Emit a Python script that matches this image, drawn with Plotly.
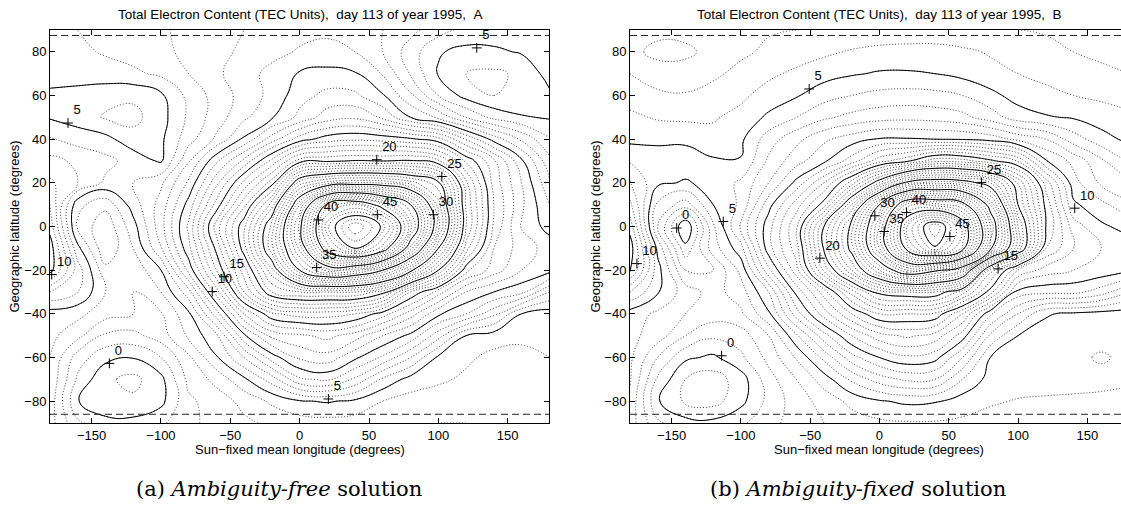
import plotly.graph_objects as go

W, H = 1121, 508

# ---------------- data ----------------
lon = list(range(-180, 181, 20))          # sun-fixed mean longitude (deg)
lat = list(range(90, -91, -10))           # geographic latitude (deg), top row first

# TEC (TEC units), panel A (ambiguity-free); one row per latitude in `lat`
tec_a = [
    [5.8, 6.0, 6.3, 6.6, 6.9, 7.2, 7.6, 8.0, 8.4, 8.7, 8.8, 8.6, 8.0, 7.3, 6.4, 5.7, 5.6, 5.7, 5.8],
    [5.6, 5.8, 6.1, 6.4, 6.8, 7.2, 7.7, 8.2, 8.7, 9.1, 9.3, 9.0, 8.0, 6.5, 5.1, 4.7, 4.8, 5.1, 5.6],
    [5.4, 5.5, 5.6, 5.8, 6.2, 7.0, 7.8, 8.6, 9.3, 10.1, 10.3, 10.1, 8.9, 6.9, 4.9, 4.0, 3.8, 4.2, 5.4],
    [4.8, 4.6, 4.3, 4.2, 4.8, 6.3, 7.4, 8.4, 9.3, 10.6, 11.3, 11.2, 10.1, 8.2, 6.0, 4.6, 4.0, 4.2, 4.8],
    [4.9, 4.5, 3.9, 3.7, 4.6, 6.2, 7.5, 8.8, 9.9, 11.3, 12.5, 12.8, 11.8, 10.0, 8.8, 7.0, 5.7, 5.1, 4.9],
    [6.1, 5.6, 5.3, 4.4, 4.8, 6.6, 8.2, 10.2, 12.5, 14.5, 15.5, 15.8, 15.6, 15.2, 14.4, 11.9, 9.6, 7.8, 6.1],
    [7.3, 6.8, 6.3, 5.6, 4.85, 7.9, 10.8, 13.3, 16.3, 19.5, 19.8, 20.1, 20.0, 20.2, 19.2, 15.8, 13.2, 10.2, 7.3],
    [8.2, 7.0, 5.8, 6.0, 6.8, 9.2, 12.7, 16.3, 19.5, 26.5, 28.5, 29.0, 28.8, 27.5, 25.3, 18.2, 13.6, 11.0, 8.2],
    [9.0, 4.3, 3.3, 5.5, 7.4, 10.4, 14.4, 18.7, 23.5, 31.9, 40.5, 42.0, 39.0, 35.0, 27.5, 18.8, 14.0, 11.2, 9.0],
    [9.6, 3.8, 2.3, 4.6, 7.6, 11.2, 16.5, 20.8, 26.4, 34.5, 43.8, 48.0, 44.7, 37.5, 28.5, 19.0, 13.8, 10.9, 9.6],
    [10.6, 5.3, 2.2, 4.0, 6.9, 10.7, 15.3, 20.6, 26.7, 33.3, 41.5, 45.0, 41.5, 33.5, 25.0, 17.5, 13.0, 11.5, 10.6],
    [10.4, 6.5, 3.3, 3.2, 5.0, 9.3, 14.0, 18.6, 23.7, 30.0, 33.5, 32.5, 30.0, 25.5, 20.0, 14.3, 12.5, 11.0, 10.4],
    [7.0, 6.0, 4.0, 3.0, 4.0, 6.6, 11.5, 17.0, 21.0, 22.0, 22.0, 22.0, 20.5, 16.0, 13.5, 11.0, 10.0, 9.3, 7.0],
    [4.5, 4.3, 3.4, 3.0, 2.9, 4.8, 8.5, 13.0, 15.8, 16.5, 16.5, 16.0, 14.5, 12.5, 10.2, 9.0, 7.3, 5.0, 4.5],
    [4.3, 3.3, 1.8, 1.7, 2.5, 4.2, 5.8, 9.8, 12.3, 12.8, 13.3, 12.5, 11.0, 9.7, 7.4, 5.0, 4.5, 4.3, 4.3],
    [4.0, 1.5, 0.3, 0.05, 1.0, 2.8, 4.9, 7.0, 9.5, 11.2, 11.6, 10.2, 8.8, 7.0, 4.8, 4.2, 3.7, 3.6, 4.0],
    [3.8, 0.8, -0.8, -1.3, -0.3, 2.3, 3.3, 4.8, 6.5, 8.8, 9.2, 7.8, 5.8, 4.6, 4.2, 3.8, 3.6, 3.6, 3.8],
    [3.6, 0.05, -0.9, -0.8, -0.3, 1.8, 2.5, 3.3, 4.2, 4.9, 5.1, 4.8, 4.0, 3.6, 3.4, 3.3, 3.4, 3.5, 3.6],
    [3.4, 1.2, 0.4, 0.3, 0.8, 1.8, 2.3, 2.8, 3.2, 3.5, 3.6, 3.5, 3.3, 3.1, 3.0, 3.0, 3.1, 3.2, 3.4],
]

# TEC (TEC units), panel B (ambiguity-fixed)
tec_b = [
    [2.6, 2.3, 2.3, 2.5, 2.7, 2.9, 3.0, 3.1, 3.2, 3.3, 3.3, 3.3, 3.2, 3.1, 3.0, 2.9, 2.8, 2.7, 2.6],
    [2.3, 1.7, 1.8, 2.3, 2.8, 3.2, 3.5, 3.8, 4.1, 4.3, 4.4, 4.4, 4.2, 3.9, 3.6, 3.3, 3.0, 2.7, 2.3],
    [3.0, 2.5, 2.4, 2.8, 3.3, 3.8, 4.2, 4.6, 4.9, 5.1, 5.1, 5.0, 4.7, 4.3, 4.0, 3.7, 3.5, 3.3, 3.0],
    [3.6, 3.2, 3.1, 3.4, 3.8, 4.4, 4.9, 5.6, 6.0, 6.3, 6.4, 6.3, 6.0, 5.3, 4.6, 4.3, 4.0, 3.8, 3.6],
    [4.2, 3.9, 3.8, 3.9, 4.3, 5.2, 6.0, 6.8, 7.3, 7.6, 7.7, 7.6, 7.3, 6.5, 5.5, 5.1, 4.9, 4.5, 4.2],
    [4.75, 4.7, 4.8, 4.3, 4.8, 6.5, 7.7, 8.8, 9.5, 10.1, 10.1, 10.0, 9.9, 9.6, 8.7, 8.0, 6.5, 5.4, 4.75],
    [5.9, 5.7, 5.5, 5.15, 5.05, 7.2, 8.6, 9.8, 11.5, 13.6, 14.8, 16.7, 16.5, 15.3, 13.9, 10.1, 8.7, 7.2, 5.9],
    [7.1, 5.2, 4.9, 5.3, 6.2, 8.0, 10.3, 13.0, 16.5, 21.0, 25.5, 26.5, 26.0, 24.0, 18.9, 13.6, 9.4, 7.8, 7.1],
    [8.25, 3.8, 2.5, 5.0, 6.2, 9.6, 12.5, 15.5, 22.0, 30.0, 37.5, 37.5, 36.0, 29.0, 20.0, 14.7, 10.2, 9.3, 8.25],
    [9.6, 3.0, -1.0, 3.8, 7.2, 10.6, 13.8, 20.0, 25.6, 33.1, 42.0, 47.0, 41.7, 32.0, 22.0, 15.0, 11.5, 10.2, 9.6],
    [10.6, 4.7, 0.3, 3.5, 5.6, 10.6, 13.5, 20.2, 25.6, 33.0, 40.7, 44.8, 40.8, 30.5, 22.0, 14.0, 12.0, 11.0, 10.6],
    [10.2, 5.4, 2.0, 2.0, 4.3, 8.7, 12.6, 18.2, 23.0, 28.0, 32.0, 30.5, 28.0, 17.5, 13.0, 11.5, 11.0, 10.7, 10.2],
    [7.0, 5.1, 3.5, 2.6, 3.5, 6.0, 10.3, 13.5, 17.5, 20.5, 21.0, 21.0, 18.5, 14.5, 9.6, 9.3, 9.3, 8.5, 7.0],
    [4.5, 3.8, 3.0, 2.5, 2.8, 4.8, 8.5, 11.5, 14.0, 16.0, 16.0, 15.8, 13.0, 9.2, 7.0, 5.1, 4.8, 4.6, 4.5],
    [4.3, 3.5, 2.0, 1.2, 1.5, 3.0, 5.8, 8.6, 11.0, 12.6, 13.2, 12.6, 10.5, 6.8, 5.0, 4.6, 4.4, 4.3, 4.3],
    [4.2, 2.0, 0.2, -0.2, 0.8, 2.3, 4.1, 6.3, 8.6, 10.0, 10.8, 10.4, 8.0, 5.0, 4.4, 4.3, 4.2, 3.9, 4.2],
    [4.1, 0.8, -1.0, -1.5, -0.5, 1.6, 3.0, 4.5, 6.2, 7.5, 8.2, 8.0, 6.0, 4.6, 4.35, 4.3, 4.3, 4.25, 4.1],
    [3.8, 0.1, -1.2, -1.4, -0.3, 1.3, 2.5, 3.4, 4.3, 4.9, 5.2, 5.1, 4.5, 4.1, 3.95, 3.9, 3.85, 3.8, 3.8],
    [3.5, 1.2, 0.4, 0.3, 0.8, 1.7, 2.4, 3.0, 3.5, 3.8, 3.9, 3.9, 3.8, 3.7, 3.6, 3.6, 3.6, 3.5, 3.5],
]

# contour labels (level, longitude, latitude) as placed in the reference
lab_a_level = [5, 5, 20, 25, 30, 45, 40, 35, 15, 10, 10, 0, 5]
lab_a_lon = [-167, 127.7, 55.6, 102.5, 96.4, 56, 13.5, 12.3, -54.5, -63, -178.8, -137.2, 20.7]
lab_a_lat = [47.4, 81.8, 30.6, 22.9, 5.4, 5.4, 3.0, -18.8, -23.0, -29.8, -22.0, -62.7, -79.0]

lab_b_level = [5, 0, 5, 10, 20, 30, 40, 35, 45, 25, 15, 10, 0]
lab_b_lon = [-50.7, -146.3, -112.7, -175.0, -43.0, -3.3, 19.5, 3.4, 50.8, 73.6, 85.6, 140.9, -113.9]
lab_b_lat = [63.0, -0.7, 2.3, -17.0, -14.5, 4.9, 6.4, -2.3, -4.6, 20.2, -19.4, 8.4, -59.2]

# latitude limits of the data (dashed lines)
lat_limit = [87.5, -86.0]

x_ticks = [-150, -100, -50, 0, 50, 100, 150]
y_ticks = [-80, -60, -40, -20, 0, 20, 40, 60, 80]

titles = ["Total Electron Content (TEC Units),\u00a0\u00a0day 113 of year 1995,\u00a0\u00a0A",
          "Total Electron Content (TEC Units),\u00a0\u00a0day 113 of year 1995,\u00a0\u00a0B"]
captions = ["(a) <i>Ambiguity-free</i> solution", "(b) <i>Ambiguity-fixed</i> solution"]
x_title = "Sun\u2212fixed mean longitude (degrees)"
y_title = "Geographic latitude (degrees)"

# ---------------- figure ----------------
SANS = "Liberation Sans, Arial, Helvetica, sans-serif"
SERIF = "DejaVu Serif, serif"
FS = 13

lat_asc = lat[::-1]
fig = go.Figure()

top_px, bot_px = 30.0, 423.0

panels = [
    (tec_a, lab_a_level, lab_a_lon, lab_a_lat, "x", "y"),
    (tec_b, lab_b_level, lab_b_lon, lab_b_lat, "x2", "y2"),
]

for tec, lv, lo, la, xa, ya in panels:
    z = tec[::-1]
    # dotted minor levels (every unit)
    fig.add_trace(go.Contour(
        x=lon, y=lat_asc, z=z, xaxis=xa, yaxis=ya,
        autocontour=False,
        contours=dict(coloring="none", start=-3, end=49, size=1),
        line=dict(color="#444444", width=1, dash="1px,2px", smoothing=1.3),
        showscale=False, hoverinfo="skip"))
    # solid major levels (every 5 units)
    fig.add_trace(go.Contour(
        x=lon, y=lat_asc, z=z, xaxis=xa, yaxis=ya,
        autocontour=False,
        contours=dict(coloring="none", start=0, end=45, size=5),
        line=dict(color="black", width=1.0, smoothing=1.3),
        showscale=False, hoverinfo="skip"))
    # dashed latitude limits
    for lt in lat_limit:
        fig.add_trace(go.Scatter(
            x=[-180, 180], y=[lt, lt], xaxis=xa, yaxis=ya, mode="lines",
            line=dict(color="#222", width=1, dash="7px,4px"),
            hoverinfo="skip", showlegend=False))
    # contour labels
    fig.add_trace(go.Scatter(
        x=lo, y=la, xaxis=xa, yaxis=ya, mode="markers+text",
        text=[str(v) for v in lv], textposition="top right",
        textfont=dict(family=SANS, size=FS, color="black"),
        marker=dict(symbol="cross-thin", size=7, line=dict(color="black", width=1)),
        cliponaxis=False, hoverinfo="skip", showlegend=False))


def px2fx(p):
    return p / W


def py2fy(p):
    return (H - p) / H


axis_common = dict(
    ticks="inside", ticklen=5, tickwidth=1, tickcolor="black",
    showline=True, linecolor="black", linewidth=1,
    showgrid=False, zeroline=False,
    tickfont=dict(family=SANS, size=FS, color="black"),
)

fig.update_layout(
    width=W, height=H,
    margin=dict(l=0, r=0, t=0, b=0),
    paper_bgcolor="white", plot_bgcolor="white",
    showlegend=False,
    xaxis=dict(domain=[px2fx(50.0), px2fx(549.3)], range=[-180, 180],
               tickvals=x_ticks, mirror="ticks", anchor="y", **axis_common),
    yaxis=dict(domain=[py2fy(bot_px), py2fy(top_px)], range=[-90, 90],
               tickvals=y_ticks, mirror="ticks", anchor="x", **axis_common),
    xaxis2=dict(domain=[px2fx(630.0), 1.0], range=[-180, 174.3],
                tickvals=x_ticks, mirror="ticks", anchor="y2", **axis_common),
    yaxis2=dict(domain=[py2fy(bot_px), py2fy(top_px)], range=[-90, 90],
                tickvals=y_ticks, mirror=False, anchor="x2", **axis_common),
)

ann = []
centers = [(50.0 + 549.3) / 2, (630.0 + 1128.9) / 2]
for i in range(2):
    ann.append(dict(text=titles[i], x=px2fx(centers[i]), y=py2fy(15), xref="paper", yref="paper",
                    showarrow=False, xanchor="center", yanchor="middle",
                    font=dict(family=SANS, size=13.5, color="black")))
    ann.append(dict(text=x_title, x=px2fx(centers[i]), y=py2fy(449), xref="paper", yref="paper",
                    showarrow=False, xanchor="center", yanchor="middle",
                    font=dict(family=SANS, size=FS, color="black")))
    ann.append(dict(text=y_title, x=px2fx([14, 595][i]), y=py2fy((top_px + bot_px) / 2),
                    xref="paper", yref="paper", textangle=-90,
                    showarrow=False, xanchor="center", yanchor="middle",
                    font=dict(family=SANS, size=FS, color="black")))
    ann.append(dict(text=captions[i], x=px2fx([279, 858][i]), y=py2fy(489), xref="paper", yref="paper",
                    showarrow=False, xanchor="center", yanchor="middle",
                    font=dict(family=SERIF, size=21, color="black")))
fig.update_layout(annotations=ann)

fig.write_html("out.html", config={"displayModeBar": False},
               post_script="document.body.style.margin='0px';")
